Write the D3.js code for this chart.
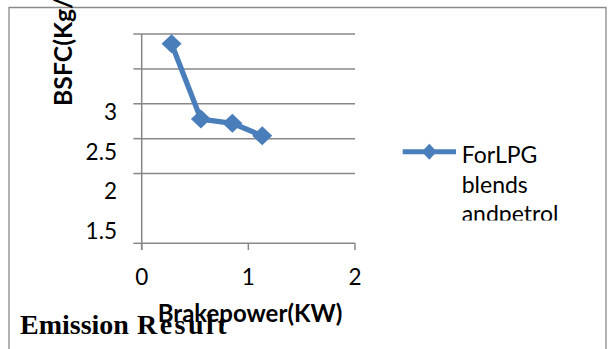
<!DOCTYPE html>
<html>
<head>
<meta charset="utf-8">
<script src="https://cdn.jsdelivr.net/npm/d3@7"></script>
<style>
  html, body { margin: 0; padding: 0; background: #ffffff; }
  svg { display: block; }
</style>
</head>
<body>
<svg id="chart" width="611" height="349"></svg>
<script>
// ---- data ----
const seriesName = "ForLPG blends andpetrol";
const legendLines = ["ForLPG", "blends", "andpetrol"];
const brakePower = [0.28, 0.555, 0.85, 1.13];
const bsfc = [3.86, 2.78, 2.72, 2.54];
const xTicks = [0, 1, 2];
const xTickLabels = ["0", "1", "2"];
const yGridValues = [2, 2.5, 3, 3.5, 4];
const yTickMarks = [1, 2, 2.5, 3, 3.5, 4];
const yTickLabels = ["3", "2.5", "2", "1.5"];
const yTickLabelValues = [3, 2.5, 2, 1.5];
const yTitle = "BSFC(Kg/KWh)";
const xTitle = "Brakepower(KW)";

// ---- layout ----
const svg = d3.select("#chart");
const calibri = "Lato, 'Noto Sans', sans-serif";
const gridColor = "#878787";
const seriesColor = "#4a7ebb";

const x = d3.scaleLinear().domain([0, 2]).range([141.7, 355]);
const y = d3.scaleLinear().domain([1, 4]).range([243.3, 34]);
// labels of the source render sit at their own (offset) positions
const yLabel = d3.scaleLinear().domain([1.5, 3]).range([231, 112]);

// chart border (bottom edge falls off the page)
svg.append("path")
  .attr("d", "M9,360 L9,7.5 L606,7.5 L606,360")
  .attr("fill", "none").attr("stroke", "#8a8a8a").attr("stroke-width", 1.3);

// gridlines
svg.append("g").selectAll("line").data(yGridValues).join("line")
  .attr("x1", x(0)).attr("x2", x(2))
  .attr("y1", d => y(d)).attr("y2", d => y(d))
  .attr("stroke", gridColor).attr("stroke-width", 1.5);

// y tick marks
svg.append("g").selectAll("line").data(yTickMarks).join("line")
  .attr("x1", x(0) - 8.3).attr("x2", x(0))
  .attr("y1", d => y(d)).attr("y2", d => y(d))
  .attr("stroke", gridColor).attr("stroke-width", 1.5);

// x axis line
svg.append("line")
  .attr("x1", x(0)).attr("x2", x(2))
  .attr("y1", y(1)).attr("y2", y(1))
  .attr("stroke", gridColor).attr("stroke-width", 1.5);
// x tick marks
svg.append("g").selectAll("line").data(xTicks).join("line")
  .attr("x1", d => x(d)).attr("x2", d => x(d))
  .attr("y1", y(1)).attr("y2", y(1) + 6.7)
  .attr("stroke", gridColor).attr("stroke-width", 1.5);
// y axis line
svg.append("line")
  .attr("x1", x(0)).attr("x2", x(0))
  .attr("y1", y(4)).attr("y2", y(1) + 6.7)
  .attr("stroke", gridColor).attr("stroke-width", 1.5);

// y tick labels
svg.append("g").selectAll("text").data(yTickLabelValues).join("text")
  .attr("x", 117).attr("y", d => yLabel(d) + 8)
  .attr("text-anchor", "end")
  .attr("font-family", calibri).attr("font-size", 22.5).attr("fill", "#000")
  .text((d, i) => yTickLabels[i]);

// x tick labels
svg.append("g").selectAll("text").data(xTicks).join("text")
  .attr("x", d => x(d)).attr("y", 284.5)
  .attr("text-anchor", "middle")
  .attr("font-family", calibri).attr("font-size", 22.5).attr("fill", "#000")
  .text((d, i) => xTickLabels[i]);

// series line
const pts = brakePower.map((v, i) => [v, bsfc[i]]);
svg.append("path")
  .datum(pts)
  .attr("d", d3.line().x(d => x(d[0])).y(d => y(d[1])))
  .attr("fill", "none").attr("stroke", seriesColor)
  .attr("stroke-width", 5.3).attr("stroke-linejoin", "round");

const diamond = (hw, hh) => `M0,${-hh} L${hw},0 L0,${hh} L${-hw},0 Z`;
svg.append("g").selectAll("path").data(pts).join("path")
  .attr("transform", d => `translate(${x(d[0])},${y(d[1])})`)
  .attr("d", diamond(10, 9.5))
  .attr("fill", seriesColor);

// y title (runs off the top of the page)
svg.append("text")
  .attr("transform", "translate(72,106) rotate(-90)")
  .attr("text-anchor", "start")
  .attr("font-family", calibri).attr("font-weight", "bold")
  .attr("font-size", 24.8).attr("fill", "#000")
  .text(yTitle);

// legend
const legend = svg.append("g");
legend.append("line")
  .attr("x1", 402.7).attr("x2", 456).attr("y1", 151.7).attr("y2", 151.7)
  .attr("stroke", seriesColor).attr("stroke-width", 5);
legend.append("path")
  .attr("transform", "translate(429.3,151.7)")
  .attr("d", diamond(7.5, 8))
  .attr("fill", seriesColor);
svg.append("defs").append("clipPath").attr("id", "legclip")
  .append("rect").attr("x", 455).attr("y", 120).attr("width", 150).attr("height", 100.5);
legend.append("g").attr("clip-path", "url(#legclip)")
  .selectAll("text").data(legendLines).join("text")
  .attr("x", 461.7).attr("y", (d, i) => 163.3 + i * 29.5)
  .attr("font-family", calibri).attr("font-size", 23).attr("fill", "#000")
  .text(d => d);

// x title
svg.append("text")
  .attr("x", 250).attr("y", 321.5)
  .attr("text-anchor", "middle")
  .attr("font-family", calibri).attr("font-weight", "bold")
  .attr("font-size", 24).attr("fill", "#000")
  .text(xTitle);

// caption text from the surrounding document
const cap = svg.append("text")
  .attr("x", 20).attr("y", 333.5)
  .attr("font-family", "'Liberation Serif', 'Times New Roman', serif")
  .attr("font-weight", "bold").attr("font-size", 28).attr("fill", "#000");
cap.append("tspan").text("Emission ");
cap.append("tspan").attr("dx", 1).attr("letter-spacing", 2.5).text("Resul");
cap.append("tspan").attr("dx", 1).text("t");
</script>
</body>
</html>
